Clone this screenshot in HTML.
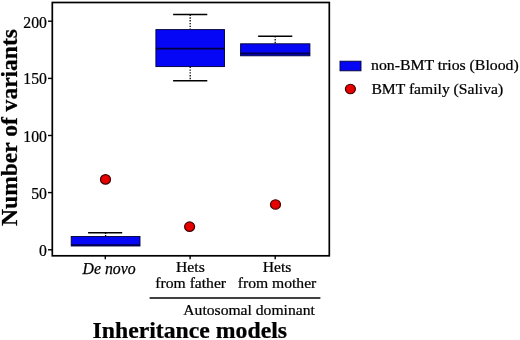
<!DOCTYPE html>
<html><head><meta charset="utf-8">
<style>
html,body{margin:0;padding:0;background:#fff;}
body{width:520px;height:340px;overflow:hidden;}
svg{display:block;position:absolute;left:0;top:0;}
.t{filter:grayscale(1);}
text{font-family:"Liberation Serif",serif;fill:#000;stroke:#000;stroke-width:0.25px;}
</style></head><body>
<svg width="520" height="340" viewBox="0 0 520 340" xmlns="http://www.w3.org/2000/svg">
<rect width="520" height="340" fill="#fff"/>
<g stroke="#000" stroke-width="1.3">
 <line x1="88.1" y1="232.7" x2="122.2" y2="232.7" stroke-width="1.6"/>
 <line x1="105.6" y1="232.7" x2="105.6" y2="236.3" stroke-dasharray="1.2 1.2"/>
 <rect x="71.2" y="236.5" width="68.8" height="9.5" fill="#0606f6" stroke="#000033" stroke-width="0.9"/>
 <line x1="71.2" y1="245.0" x2="140.0" y2="245.0" stroke-width="1.4" stroke="#000040"/>
 <line x1="173.1" y1="14.5" x2="207.3" y2="14.5" stroke-width="1.6"/>
 <line x1="190.2" y1="14.5" x2="190.2" y2="29.2" stroke-dasharray="1.4 1.4"/>
 <line x1="190.2" y1="66.6" x2="190.2" y2="80.8" stroke-dasharray="1.4 1.4"/>
 <line x1="173.1" y1="80.8" x2="207.3" y2="80.8" stroke-width="1.6"/>
 <rect x="155.9" y="29.6" width="68.6" height="37.0" fill="#0606f6" stroke="#000033" stroke-width="0.9"/>
 <line x1="155.9" y1="48.7" x2="224.5" y2="48.7" stroke-width="1.8" stroke="#000040"/>
 <line x1="258.1" y1="36.2" x2="292.3" y2="36.2" stroke-width="1.6"/>
 <line x1="275.2" y1="36.2" x2="275.2" y2="43.7" stroke-dasharray="1.4 1.4"/>
 <rect x="240.6" y="43.8" width="69.3" height="12" fill="#0606f6" stroke="#000033" stroke-width="0.9"/>
 <line x1="240.6" y1="53.5" x2="309.9" y2="53.5" stroke-width="1.8" stroke="#000050"/>
</g>
<g fill="#e60000" stroke="#440000" stroke-width="1.2">
 <ellipse cx="105.5" cy="179.4" rx="5.0" ry="4.75"/>
 <ellipse cx="189.6" cy="226.7" rx="5.0" ry="4.75"/>
 <ellipse cx="275.5" cy="204.5" rx="5.0" ry="4.75"/>
 <ellipse cx="350.4" cy="89.0" rx="5.0" ry="4.75"/>
</g>
<rect x="340" y="61.2" width="21" height="9.6" fill="#0606f6" stroke="#000033" stroke-width="0.9"/>
<rect x="52.3" y="2.5" width="277.0" height="253.3" fill="none" stroke="#000" stroke-width="1.7"/>
<g stroke="#000" stroke-width="1.4">
 <line x1="48" y1="21.2" x2="52.3" y2="21.2"/>
 <line x1="48" y1="78.4" x2="52.3" y2="78.4"/>
 <line x1="48" y1="135.5" x2="52.3" y2="135.5"/>
 <line x1="48" y1="192.6" x2="52.3" y2="192.6"/>
 <line x1="48" y1="249.8" x2="52.3" y2="249.8"/>
 <line x1="105.3" y1="255.5" x2="105.3" y2="259.2"/>
 <line x1="190.1" y1="255.5" x2="190.1" y2="259.2"/>
 <line x1="275.2" y1="255.5" x2="275.2" y2="259.2"/>
</g>
<line x1="149.6" y1="298" x2="320.4" y2="298" stroke="#000" stroke-width="1.5"/>
</svg>
<svg class="t" width="520" height="340" viewBox="0 0 520 340" xmlns="http://www.w3.org/2000/svg">
<text transform="translate(46.9 27.8) scale(0.965 1)" text-anchor="end" style="font-size:16.3px;font-weight:normal;font-style:normal">200</text>
<text transform="translate(46.9 83.8) scale(0.965 1)" text-anchor="end" style="font-size:16.3px;font-weight:normal;font-style:normal">150</text>
<text transform="translate(46.9 141.8) scale(0.965 1)" text-anchor="end" style="font-size:16.3px;font-weight:normal;font-style:normal">100</text>
<text transform="translate(46.9 199.1) scale(0.965 1)" text-anchor="end" style="font-size:16.3px;font-weight:normal;font-style:normal">50</text>
<text transform="translate(46.9 256.2) scale(0.965 1)" text-anchor="end" style="font-size:16.3px;font-weight:normal;font-style:normal">0</text>
<text transform="translate(82.6 273.7)" text-anchor="start" style="font-size:15.8px;font-weight:normal;font-style:italic">De novo</text>
<text transform="translate(190.4 271.8) scale(1.043 1)" text-anchor="middle" style="font-size:15.0px;font-weight:normal;font-style:normal">Hets</text>
<text transform="translate(190.7 288.4) scale(1.043 1)" text-anchor="middle" style="font-size:15.0px;font-weight:normal;font-style:normal">from father</text>
<text transform="translate(277.1 271.8) scale(1.043 1)" text-anchor="middle" style="font-size:15.0px;font-weight:normal;font-style:normal">Hets</text>
<text transform="translate(277.0 288.4) scale(1.043 1)" text-anchor="middle" style="font-size:15.0px;font-weight:normal;font-style:normal">from mother</text>
<text transform="translate(183.3 314.6) scale(1.043 1)" text-anchor="start" style="font-size:15.0px;font-weight:normal;font-style:normal">Autosomal dominant</text>
<text transform="translate(92.5 337.8) scale(1.051 1)" text-anchor="start" style="font-size:22.6px;font-weight:bold;font-style:normal">Inheritance models</text>
<text transform="translate(17.2 225.9) rotate(-90) scale(1 1.0)" style="font-size:23.52px;font-weight:bold">Number of variants</text>
<text transform="translate(371 69.6) scale(1.0513439999999998 1)" text-anchor="start" style="font-size:15.0px;font-weight:normal;font-style:normal">non-BMT trios (Blood)</text>
<text transform="translate(371.4 94.0) scale(1.043 1)" text-anchor="start" style="font-size:15.0px;font-weight:normal;font-style:normal">BMT family (Saliva)</text>
</svg>
</body></html>
